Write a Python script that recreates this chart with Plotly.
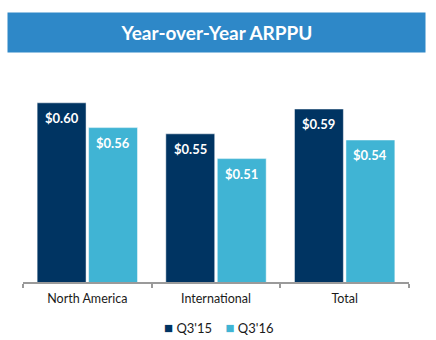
import plotly.graph_objects as go

# ARPPU by region, Q3'15 vs Q3'16
categories = ["North America", "International", "Total"]
series_names = ["Q3'15", "Q3'16"]
q3_15 = [0.60, 0.55, 0.59]
q3_16 = [0.56, 0.51, 0.54]
colors = ["#003462", "#40B4D4"]

FONT = "Lato"
W, H = 436, 340
M_L, M_R, M_T, M_B = 23, 27, 70, 58
plot_w = W - M_L - M_R
plot_h = H - M_T - M_B

fig = go.Figure()
for name, vals, col in zip(series_names, [q3_15, q3_16], colors):
    fig.add_trace(go.Bar(
        x=categories, y=vals, name=name,
        marker=dict(color=col, line=dict(color="rgba(255,255,255,0.6)", width=0.8)),
    ))

# value labels just inside the top of each bar
slot = plot_w / len(categories) * 0.8 / 2
for i, vals in enumerate([q3_15, q3_16]):
    shift = (i - 0.5) * slot
    for cat, v in zip(categories, vals):
        fig.add_annotation(
            x=cat, y=v, xref="x", yref="y", text=f"<b>${v:.2f}</b>",
            showarrow=False, xshift=shift, yshift=-15, yanchor="middle",
            font=dict(family=FONT, size=13, color="white"),
        )

# title banner
fig.add_annotation(
    xref="paper", yref="paper",
    x=(216.5 - M_L) / plot_w, y=(H - M_B - 32.5) / plot_h,
    xanchor="center", yanchor="middle",
    text="<b>Year-over-Year ARPPU</b>", showarrow=False,
    width=417, height=39, bgcolor="#2E88C8", borderpad=0,
    font=dict(family=FONT, size=19, color="white"),
)

# compact legend: coloured squares followed by series names
legend_text = "&nbsp;&nbsp;&nbsp;&nbsp;".join(
    f"<span style='color:{c};font-size:15px'>■</span>&nbsp;{n}"
    for n, c in zip(series_names, colors)
)
fig.add_annotation(
    xref="paper", yref="paper",
    x=(218 - M_L) / plot_w, y=(H - M_B - 327) / plot_h,
    xanchor="center", yanchor="middle", showarrow=False,
    text=legend_text, font=dict(family=FONT, size=13, color="#1a1a1a"),
)

fig.update_layout(
    width=W, height=H,
    margin=dict(l=M_L, r=M_R, t=M_T, b=M_B, autoexpand=False),
    paper_bgcolor="white", plot_bgcolor="white",
    barmode="group", bargap=0.2, bargroupgap=0.05,
    font=dict(family=FONT, size=13, color="#1a1a1a"),
    showlegend=False,
    xaxis=dict(showline=True, linecolor="#9a9a9a", linewidth=1.5,
               ticks="outside", tickson="boundaries", ticklen=4,
               tickcolor="#9a9a9a", tickwidth=1.5, showgrid=False,
               ticklabelstandoff=4, tickfont=dict(size=12.5)),
    yaxis=dict(range=[0.311, 0.311 + plot_h / 620], visible=False,
               showgrid=False, zeroline=False),
)

fig.write_html("out.html")
